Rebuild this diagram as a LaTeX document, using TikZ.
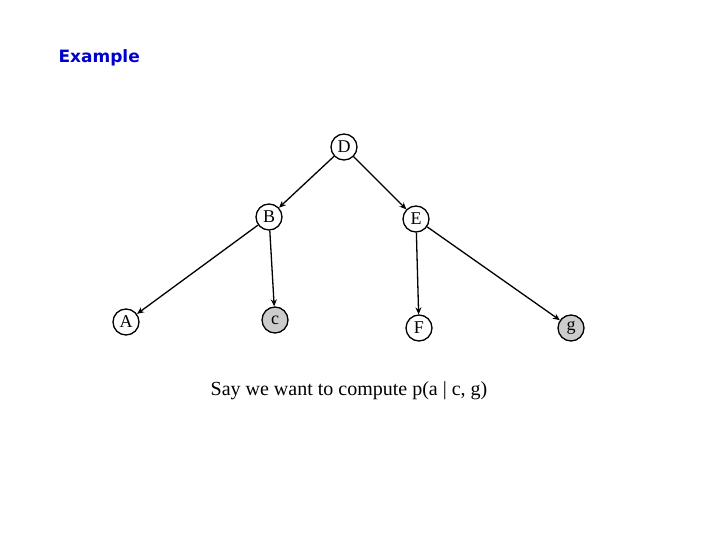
\documentclass[tikz,border=0pt]{standalone}
\usepackage{fontspec}
\setmainfont{Liberation Serif}
\newfontfamily\titlefont{DejaVu Sans}
\usetikzlibrary{arrows.meta}
\begin{document}
\begin{tikzpicture}[x=1pt,y=-1pt,
  vnode/.style={circle,draw,line width=1.3pt,minimum size=26pt,inner sep=0pt,font=\fontsize{18}{20}\selectfont},
  obs/.style={vnode,fill=black!20},
  edge/.style={-{Stealth[length=7pt,width=6pt]},line width=1.3pt}]
\useasboundingbox (0,0) rectangle (720,540);
\node[font=\titlefont\bfseries\fontsize{17}{20}\selectfont,text=blue!80!black,anchor=west] (title) at (55,58) {Example};
\node[vnode] (D) at (344,147) {D};
\node[vnode] (B) at (269,217) {B};
\node[vnode] (E) at (416,219) {E};
\node[vnode] (A) at (126,322) {A};
\node[obs] (c) at (275,320) {c};
\node[vnode] (F) at (419,328) {F};
\node[obs] (g) at (571,328) {g};
\draw[edge] (D) -- (B);
\draw[edge] (D) -- (E);
\draw[edge] (B) -- (A);
\draw[edge] (B) -- (c);
\draw[edge] (E) -- (F);
\draw[edge] (E) -- (g);
\node[font=\fontsize{20}{24}\selectfont] (cap) at (349,391) {Say we want to compute p(a | c, g)};
\end{tikzpicture}
\end{document}
